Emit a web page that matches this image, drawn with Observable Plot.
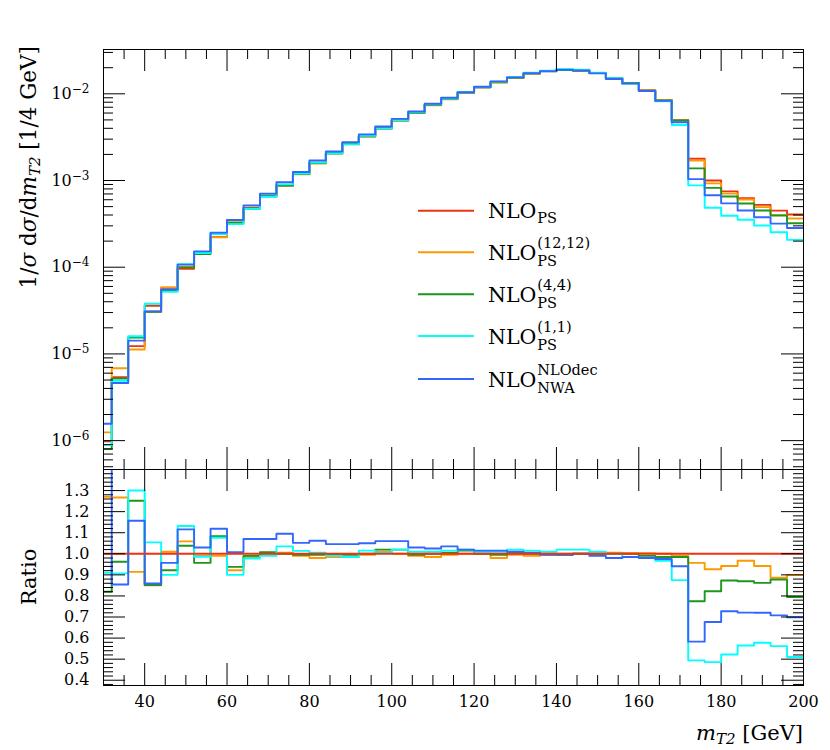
<!DOCTYPE html>
<html><head><meta charset="utf-8">
<script src="https://cdn.jsdelivr.net/npm/d3@7"></script>
<script src="https://cdn.jsdelivr.net/npm/@observablehq/plot@0.6"></script>
<style>
body{margin:0;background:#fff;}
#chart{position:relative;width:830px;height:750px;font-family:"DejaVu Serif",serif;overflow:hidden;}
#chart svg{position:absolute;left:0;background:transparent;}
</style></head><body><div id="chart"></div>
<script>
// ---------------- data ----------------
const binLow = [30,32,36,40,44,48,52,56,60,64,68,72,76,80,84,88,92,96,100,104,108,112,116,120,124,128,132,136,140,144,148,152,156,160,164,168,172,176,180,184,188,192,196];
const binEnd = 200;
// NLO_PS (reference), 1/sigma dsigma/dmT2
const nloPS = [9.8e-7,5.4e-6,1.23e-5,3.6e-5,5.8e-5,9.6e-5,1.48e-4,2.24e-4,3.49e-4,4.81e-4,6.57e-4,8.72e-4,1.19e-3,1.60e-3,2.07e-3,2.65e-3,3.24e-3,3.96e-3,4.85e-3,6.07e-3,7.48e-3,8.7e-3,1.02e-2,1.19e-2,1.37e-2,1.53e-2,1.72e-2,1.83e-2,1.9e-2,1.86e-2,1.74e-2,1.51e-2,1.33e-2,1.10e-2,8.5e-3,5.0e-3,1.78e-3,1.0e-3,7.5e-4,6.25e-4,5.24e-4,4.5e-4,4.05e-4];
// ratios to NLO_PS
const ratio1212 = [1.27,1.267,0.914,0.85,1.01,1.059,0.99,0.99,0.922,0.985,1.0,1.005,0.99,0.98,0.985,0.985,0.995,1.01,1.0,0.99,0.985,0.995,1.0,1.0,0.98,0.995,0.99,0.995,1.0,1.0,1.0,1.005,1.003,1.003,1.0,0.99,0.957,0.927,0.942,0.967,0.942,0.886,0.9];
const ratio44   = [0.82,0.962,1.252,0.852,0.922,1.038,0.957,1.084,0.938,0.99,1.008,1.0,0.995,0.995,0.995,0.995,1.0,1.02,1.02,0.995,1.0,1.005,1.015,1.0,0.995,1.005,1.0,1.0,0.995,1.0,1.0,1.0,1.0,0.99,0.985,0.985,0.775,0.822,0.873,0.87,0.862,0.878,0.795];
const ratio11   = [0.91,0.907,1.30,1.054,0.90,1.132,0.986,1.076,0.90,0.978,0.99,1.035,1.014,1.005,0.99,0.985,1.015,1.005,1.02,1.01,1.01,1.015,1.02,1.01,1.01,1.02,1.015,1.01,1.02,1.02,1.01,1.0,0.985,0.98,0.967,0.875,0.494,0.486,0.522,0.565,0.578,0.562,0.51];
const ratioNWA  = [1.60,0.854,1.157,0.859,0.957,1.116,1.03,1.119,1.008,1.07,1.07,1.095,1.052,1.062,1.046,1.046,1.05,1.06,1.06,1.03,1.025,1.035,1.02,1.015,1.015,1.01,1.005,0.995,0.995,1.0,0.99,0.98,0.985,0.98,0.975,0.941,0.583,0.676,0.727,0.721,0.72,0.708,0.699];

const seriesNames  = ["PS","PS1212","PS44","PS11","NWA"];
const seriesColors = ["#ee3311","#ff9900","#1e961e","#00ffff","#3366ff"];
const legendSup    = ["","(12,12)","(4,4)","(1,1)","NLOdec"];
const legendSub    = ["PS","PS","PS","PS","NWA"];

const xMajorTicks = [40,60,80,100,120,140,160,180,200];
const yMajorTicks = [1e-6,1e-5,1e-4,1e-3,1e-2];
const rMajorTicks = [0.4,0.5,0.6,0.7,0.8,0.9,1.0,1.1,1.2,1.3];

// ---------------- layout ----------------
const W = 830, ML = 103, MR = 27, PW = W - ML - MR;
const topH = 475, topMT = 49, topMB = 6, topPH = topH - topMT - topMB;
const botY = 463, botH = 287, botMT = 6, botMB = 65, botPH = botH - botMT - botMB;
const yDomain = [Math.pow(10,-6.333), Math.pow(10,-1.489)];
const rDomain = [0.375, 1.4];

const ratios = [nloPS.map(() => 1), ratio1212, ratio44, ratio11, ratioNWA];
function steps(vals, name) {
  const pts = binLow.map((x, i) => ({x, y: vals[i], s: name}));
  pts.push({x: binEnd, y: vals[vals.length - 1], s: name});
  return pts;
}
const topData = [];
ratios.forEach((r, k) => topData.push(...steps(nloPS.map((v, i) => v * r[i]), seriesNames[k])));
const botOrder = [1,2,3,4,0];
const botData = [];
botOrder.forEach(k => botData.push(...steps(ratios[k], seriesNames[k])));

const xMinor = d3.range(35, 200, 5).filter(v => v % 20 !== 0);
const yMinor = [];
for (let e = -7; e <= -2; e++) for (let m = 2; m <= 9; m++) { const v = m * Math.pow(10, e); if (v > yDomain[0] && v < yDomain[1]) yMinor.push(v); }
const rMinor = d3.range(19, 70).filter(i => i % 5 !== 0).map(i => i * 0.02);

function yTicks(vals, len) {
  return [Plot.tickY(vals, {y: d => d, insetRight: PW - len, stroke: "#000", strokeWidth: 1}),
          Plot.tickY(vals, {y: d => d, insetLeft: PW - len, stroke: "#000", strokeWidth: 1})];
}
function xTicks(vals, len, ph) {
  return [Plot.tickX(vals, {x: d => d, insetBottom: ph - len, stroke: "#000", strokeWidth: 1}),
          Plot.tickX(vals, {x: d => d, insetTop: ph - len, stroke: "#000", strokeWidth: 1})];
}
const color = {type: "ordinal", domain: seriesNames, range: seriesColors};
const baseStyle = {fontFamily: "DejaVu Serif", fontSize: "16px", background: "transparent", overflow: "visible"};

const topPlot = Plot.plot({
  width: W, height: topH, marginTop: topMT, marginBottom: topMB, marginLeft: ML, marginRight: MR,
  style: baseStyle,
  x: {domain: [30, 200], axis: null},
  y: {type: "log", domain: yDomain, axis: null},
  color,
  marks: [
    Plot.line(topData, {x: "x", y: "y", z: "s", stroke: "s", curve: "step-after", strokeWidth: 1.9, clip: true}),
    ...yTicks(yMajorTicks, 22), ...yTicks(yMinor, 10),
    ...xTicks(xMajorTicks, 22, topPH), ...xTicks(xMinor, 10, topPH),
    Plot.axisY(yMajorTicks, {anchor: "left", tickSize: 0, tickPadding: 14, label: null, fontSize: 16,
      tickFormat: d => `10^${Math.round(Math.log10(d))}`}),
    Plot.frame({stroke: "#000", strokeWidth: 1})
  ]
});
topPlot.style.top = "0px";

const botPlot = Plot.plot({
  width: W, height: botH, marginTop: botMT, marginBottom: botMB, marginLeft: ML, marginRight: MR,
  style: baseStyle,
  x: {domain: [30, 200], axis: null},
  y: {domain: rDomain, axis: null},
  color,
  marks: [
    Plot.line(botData, {x: "x", y: "y", z: "s", stroke: "s", curve: "step-after", strokeWidth: 1.9, clip: true}),
    ...yTicks(rMajorTicks, 22), ...yTicks(rMinor, 10),
    ...xTicks(xMajorTicks, 22, botPH), ...xTicks(xMinor, 10, botPH),
    Plot.axisY(rMajorTicks, {anchor: "left", tickSize: 0, tickPadding: 14, label: null, fontSize: 16, tickFormat: d3.format(".1f")}),
    Plot.axisX(xMajorTicks, {anchor: "bottom", tickSize: 0, tickPadding: 10, label: null, fontSize: 16, tickFormat: d => String(d)}),
    Plot.frame({stroke: "#000", strokeWidth: 1})
  ]
});
botPlot.style.top = botY + "px";

const chart = document.getElementById("chart");
chart.append(topPlot, botPlot);

// superscript exponents on the log axis labels
const NS = "http://www.w3.org/2000/svg";
topPlot.querySelectorAll("text").forEach(t => {
  const s = t.textContent;
  if (s.includes("^")) {
    const [b, e] = s.split("^");
    t.textContent = "";
    const t1 = document.createElementNS(NS, "tspan"); t1.textContent = b;
    const t2 = document.createElementNS(NS, "tspan"); t2.textContent = e.replace("-", "\u2212");
    t2.setAttribute("dy", "-0.5em"); t2.setAttribute("font-size", "12");
    t.append(t1, t2);
  }
});

// ---------------- titles & legend overlay ----------------
const ov = d3.select(chart).append("svg").attr("width", W).attr("height", 750)
  .style("top", "0px").style("pointer-events", "none")
  .attr("font-family", "DejaVu Serif").attr("fill", "#000");

const yt = ov.append("text").attr("transform", "translate(36,46) rotate(-90)").attr("text-anchor", "end").attr("font-size", 21.5);
yt.append("tspan").text("1/");
yt.append("tspan").attr("font-style", "italic").text("σ");
yt.append("tspan").text(" d");
yt.append("tspan").attr("font-style", "italic").text("σ");
yt.append("tspan").text("/d");
yt.append("tspan").attr("font-style", "italic").text("m");
yt.append("tspan").attr("font-style", "italic").attr("font-size", 15).attr("dy", 4).text("T2");
yt.append("tspan").attr("dy", -4).text(" [1/4 GeV]");

ov.append("text").attr("transform", "translate(36,577) rotate(-90)").attr("text-anchor", "middle").attr("font-size", 21).text("Ratio");

const xt = ov.append("text").attr("x", 803).attr("y", 740).attr("text-anchor", "end").attr("font-size", 21);
xt.append("tspan").attr("font-style", "italic").text("m");
xt.append("tspan").attr("font-style", "italic").attr("font-size", 15).attr("dy", 4).text("T2");
xt.append("tspan").attr("dy", -4).text(" [GeV]");

const legY = [210.7, 252.3, 294.3, 336, 379];
seriesNames.forEach((n, i) => {
  const Y = legY[i];
  ov.append("line").attr("x1", 418).attr("x2", 474).attr("y1", Y).attr("y2", Y)
    .attr("stroke", seriesColors[i]).attr("stroke-width", 2);
  const base = ov.append("text").attr("x", 488).attr("y", Y + 7.6).attr("font-size", 20.5).text("NLO");
  const w = base.node().getComputedTextLength();
  const stacked = !!legendSup[i];
  ov.append("text").attr("x", 488 + w + 1).attr("y", Y + (stacked ? 13.5 : 12)).attr("font-size", 14.5).text(legendSub[i]);
  if (stacked) ov.append("text").attr("x", 488 + w + 1).attr("y", Y - 4.5).attr("font-size", 14.5).text(legendSup[i]);
});
</script></body></html>
